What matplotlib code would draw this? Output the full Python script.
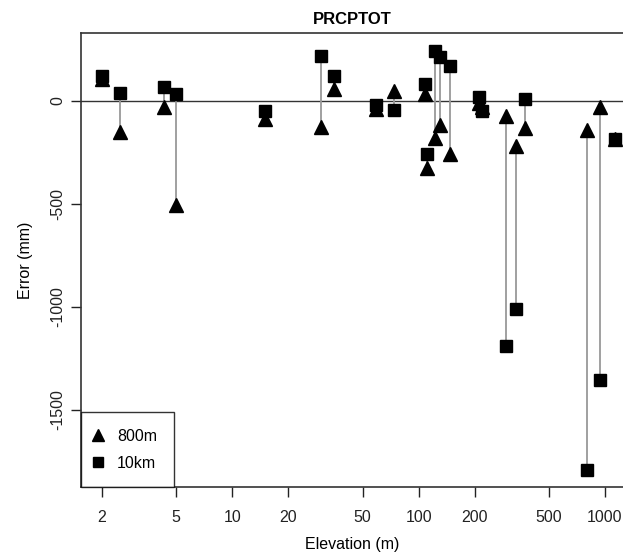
import numpy as np
import matplotlib
matplotlib.use("Agg")
import matplotlib.pyplot as plt
from matplotlib.ticker import FixedLocator, NullLocator, FixedFormatter

plt.rcParams['font.family'] = ['Liberation Sans', 'DejaVu Sans']

# station elevation (m) and error (mm) for the two resolutions
elev = [2, 2.5, 4.3, 5, 15, 30, 35, 59, 74, 108, 111, 122, 130, 147,
        210, 220, 294, 332, 372, 800, 940, 1135]
err_800m = [104, -153, -29, -507, -88, -126, 57, -40, 44, 32, -327, -180, -118, -261,
            -10, -30, -73, -218, -132, -142, -32, -185]
err_10km = [119, 35, 64, 31, -53, 218, 121, -24, -48, 81, -261, 238, 210, 169,
            15, -50, -1190, -1011, 8, -1790, -1355, -187]

xticks = [2, 5, 10, 20, 50, 100, 200, 500, 1000]
yticks = [0, -500, -1000, -1500]

W, H = 623, 558
fig = plt.figure(figsize=(W / 100, H / 100), dpi=100)
ax = fig.add_axes([81 / W, (H - 487.3) / H, (623 - 81) / W, (487.3 - 33.3) / H])

# grey segments joining the two errors at each station
for x, a, b in zip(elev, err_800m, err_10km):
    ax.plot([x, x], [a, b], color='#999999', lw=1.3, zorder=2)

ax.axhline(0, color='#333333', lw=1, zorder=1)

ax.plot(elev, err_800m, ls='none', marker='^', color='black', markersize=10,
        zorder=3, label='800m', clip_on=False)
ax.plot(elev, err_10km, ls='none', marker='s', color='black', markersize=8.5,
        zorder=4, label='10km', clip_on=False)

ax.set_xscale('log')
ax.set_xlim(10 ** 0.188, 10 ** 3.097)
ax.set_ylim(-1875, 326)

ax.xaxis.set_major_locator(FixedLocator(xticks))
ax.xaxis.set_major_formatter(FixedFormatter([str(t) for t in xticks]))
ax.xaxis.set_minor_locator(NullLocator())
ax.set_yticks(yticks)
ax.set_yticklabels([str(t) for t in yticks], rotation=90, va='center')
ax.tick_params(axis='both', direction='out', length=7, width=1, labelsize=11.5, colors='#222222')
ax.tick_params(axis='x', pad=9)
ax.tick_params(axis='y', pad=4)

for s in ['left', 'top', 'bottom']:
    ax.spines[s].set_linewidth(1.2)
    ax.spines[s].set_color('#333333')
ax.spines['right'].set_visible(False)

ax.set_xlabel('Elevation (m)', fontsize=11.5, labelpad=9)
ax.set_ylabel('Error (mm)', fontsize=11.5, labelpad=13)
ax.set_title('PRCPTOT', fontsize=12, fontweight='bold', pad=7)

leg = ax.legend(loc='lower left', frameon=True, fancybox=False, fontsize=11.5,
                borderaxespad=0, handlelength=0.0, handletextpad=1.2,
                borderpad=1.05, labelspacing=0.75, markerscale=0.8)
leg.get_frame().set_edgecolor('black')
leg.get_frame().set_linewidth(1)

fig.savefig('out.png', dpi=100)
